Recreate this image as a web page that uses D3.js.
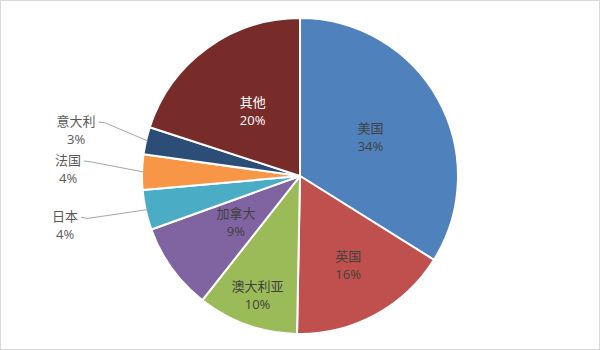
<!DOCTYPE html>
<html>
<head>
<meta charset="utf-8">
<script src="https://cdn.jsdelivr.net/npm/d3@7"></script>
<style>
  body { margin: 0; background: #fff; }
  svg text { font-family: "Open Sans", "Noto Sans CJK SC", sans-serif; font-size: 13px; }
</style>
</head>
<body>
<div class="chart"></div>
<script>
// share of each country, clockwise from 12 o'clock
const countries = ["美国", "英国", "澳大利亚", "加拿大", "日本", "法国", "意大利", "其他"];
const shares = [33.9, 16.4, 10.3, 8.9, 4.1, 3.6, 2.8, 20.0];
const colors = ["#4f81bd", "#c0504d", "#9bbb59", "#8064a2", "#4bacc6", "#f79646", "#2c4d75", "#772c2a"];

const width = 600, height = 350;
const cx = 300, cy = 176, radius = 158;

// label placement (fraction of radius for inside labels, elbow point for outside ones)
const insideR = { "美国": 0.51, "英国": 0.64, "澳大利亚": 0.8, "加拿大": 0.5, "其他": 0.51 };
const outside = { "日本": { a: 259.3, k: 1.41 }, "法国": { a: 274, k: 1.37 }, "意大利": { a: 285, k: 1.32 } };

const data = countries.map((c, i) => ({ name: c, value: shares[i], color: colors[i] }));

let svg = d3.select(".chart")
  .append("svg")
    .attr("width", width)
    .attr("height", height);

svg.append("rect")
  .attr("x", 0.5).attr("y", 0.5)
  .attr("width", width - 1).attr("height", height - 1)
  .attr("fill", "#fff")
  .attr("stroke", "#d9d9d9");

let g = svg.append("g")
  .attr("transform", "translate(" + cx + "," + cy + ")");

let pie = d3.pie().sort(null).value(d => d.value);
let arc = d3.arc().innerRadius(0).outerRadius(radius);
let arcs = pie(data);

g.selectAll("path.slice")
  .data(arcs)
  .enter().append("path")
    .attr("class", "slice")
    .attr("d", arc)
    .attr("fill", d => d.data.color)
    .attr("stroke", "#fff")
    .attr("stroke-width", 2)
    .attr("stroke-linejoin", "round");

const polar = (a, r) => [r * Math.sin(a), -r * Math.cos(a)];

arcs.forEach(d => {
  let name = d.data.name;
  let pct = Math.round(d.data.value) + "%";
  let mid = (d.startAngle + d.endAngle) / 2;

  if (insideR[name] !== undefined) {
    let p = polar(mid, radius * insideR[name]);
    let fill = name === "其他" ? "#ffffff" : "#404040";
    g.append("text")
      .attr("x", p[0]).attr("y", p[1] - 4)
      .attr("text-anchor", "middle")
      .attr("fill", fill)
      .text(name);
    g.append("text")
      .attr("x", p[0]).attr("y", p[1] + 14)
      .attr("text-anchor", "middle")
      .attr("fill", fill)
      .text(pct);
  } else {
    let o = outside[name];
    let e = polar(o.a * Math.PI / 180, radius * o.k);
    let edge = polar(mid, radius - 2);
    g.append("polyline")
      .attr("points", [e, [e[0] + 7, e[1] + 1], edge].map(p => p.join(",")).join(" "))
      .attr("fill", "none")
      .attr("stroke", "#a6a6a6")
      .attr("stroke-width", 1);
    let t = g.append("text")
      .attr("x", e[0] - 3).attr("y", e[1] + 4)
      .attr("text-anchor", "end")
      .attr("fill", "#595959")
      .text(name);
    let w = t.node().getComputedTextLength();
    g.append("text")
      .attr("x", e[0] - 3 - w / 2).attr("y", e[1] + 22)
      .attr("text-anchor", "middle")
      .attr("fill", "#595959")
      .text(pct);
  }
});
</script>
</body>
</html>
